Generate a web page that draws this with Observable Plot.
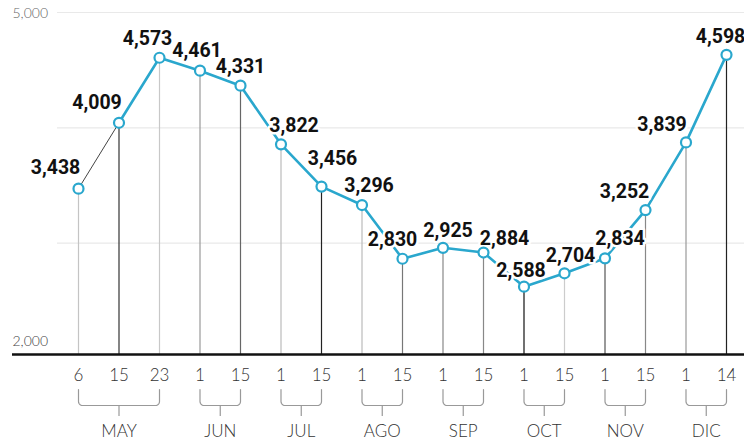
<!DOCTYPE html>
<html><head><meta charset="utf-8">
<script src="https://cdn.jsdelivr.net/npm/d3@7"></script>
<script src="https://cdn.jsdelivr.net/npm/@observablehq/plot@0.6"></script>
<style>body{margin:0;background:#fff}</style>
</head><body><div id="chart"></div>
<script>
// ---- data ----
const days   = ["6","15","23","1","15","1","15","1","15","1","15","1","15","1","15","1","14"];
const months = ["MAY","MAY","MAY","JUN","JUN","JUL","JUL","AGO","AGO","SEP","SEP","OCT","OCT","NOV","NOV","DIC","DIC"];
const values = [3438,4009,4573,4461,4331,3822,3456,3296,2830,2925,2884,2588,2704,2834,3252,3839,4598];
const gridValues = [3000,4000,5000];

// ---- layout / style (separate from data) ----
const labelDx = [-23,-22,-12,-3,0,13,11,7,-10,5,21,-3,6,15,-21,-24,-6];
const labelDy = [-21,-20,-19,-20,-19,-19,-28,-19,-19,-17,-14,-16,-18,-20,-18,-18,-18];
const stemShade = ["#c4c4c4","#333","#c8c8c8","#999","#666","#bbb","#222","#bbb","#777","#888","#888","#111","#ccc","#555","#888","#999","#222"];
const blue = "#2aa7cd";

const W = 744, H = 442, mL = 78, mR = 18, mT = 8, mB = 88;
const xs = Plot.scale({x: {type: "linear", domain: [0, values.length - 1], range: [mL, W - mR]}});
const ys = Plot.scale({y: {type: "linear", domain: [2000, 5000], range: [H - mB, mT]}});
const py = px => ys.invert(px);   // pixel -> data y
const pxx = px => xs.invert(px);  // pixel -> data x
const step = xs.apply(1) - xs.apply(0);

const data = values.map((v, i) => ({i, v, day: days[i], month: months[i]}));
const fmt = d3.format(",");

// month groups -> brackets
const groups = d3.groups(data, d => d.month).map(([m, arr]) => ({
  month: m, i0: d3.min(arr, d => d.i), i1: d3.max(arr, d => d.i)
}));
const topB = 389, botB = 405, tickB = 416, r = 4;
const bracketPts = [];
groups.forEach(g => {
  const rx = r / step;
  bracketPts.push({m: g.month, x: g.i0, y: py(topB)});
  for (let a = 0; a <= 90; a += 15) {
    const t = a * Math.PI / 180;
    bracketPts.push({m: g.month, x: g.i0 + rx * (1 - Math.cos(t)), y: py(botB - r + r * Math.sin(t))});
  }
  for (let a = 90; a >= 0; a -= 15) {
    const t = a * Math.PI / 180;
    bracketPts.push({m: g.month, x: g.i1 - rx * (1 - Math.cos(t)), y: py(botB - r + r * Math.sin(t))});
  }
  bracketPts.push({m: g.month, x: g.i1, y: py(topB)});
});

const chart = Plot.plot({
  width: W, height: H,
  marginLeft: mL, marginRight: mR, marginTop: mT, marginBottom: mB,
  x: {type: "linear", domain: [0, values.length - 1], axis: null},
  y: {type: "linear", domain: [2000, 5000], axis: null},
  color: {type: "identity"},
  style: {background: "#fff", overflow: "visible"},
  marks: [
    // gridlines
    Plot.ruleY(gridValues, {y: d => d, x1: pxx(57), x2: pxx(744), stroke: "#e9e9e9", strokeWidth: 1.2, dy: 4}),
    // stems
    Plot.ruleX(data, {x: "i", y1: 2000, y2: "v", stroke: d => stemShade[d.i], strokeWidth: 1.2}),
    // baseline
    Plot.ruleY([2000], {x1: pxx(12), x2: pxx(744), stroke: "#111", strokeWidth: 2.6}),
    // first thin segment
    Plot.line(data.slice(0, 2), {x: "i", y: "v", stroke: "#444", strokeWidth: 1}),
    // main line
    Plot.line(data.slice(1), {x: "i", y: "v", stroke: blue, strokeWidth: 2.6}),
    // value labels with halo
    Plot.text(data, {
      x: d => d.i + labelDx[d.i] / step,
      y: d => py(ys.apply(d.v) + labelDy[d.i]),
      text: d => fmt(d.v),
      fontFamily: "Roboto", fontWeight: 700, fontSize: 19.5,
      fill: "#111", stroke: "white", strokeWidth: 5
    }),
    // dots
    Plot.dot(data, {x: "i", y: "v", r: 5, fill: "white", stroke: blue, strokeWidth: 2.2}),
    // y labels
    Plot.text([5000], {x: pxx(12), y: d => d, text: d => fmt(d), textAnchor: "start", dy: 5,
      fontFamily: "Lato", fontWeight: 300, fontSize: 14, fill: "#666"}),
    Plot.text([2000], {x: pxx(12), y: d => d, text: d => fmt(d), textAnchor: "start", dy: -13,
      fontFamily: "Lato", fontWeight: 300, fontSize: 14, fill: "#444"}),
    // day labels
    Plot.text(data, {x: "i", y: 2000, text: "day", dy: 21,
      fontFamily: "Lato", fontWeight: 300, fontSize: 17, fill: "#333"}),
    // brackets
    Plot.line(bracketPts, {x: "x", y: "y", z: "m", stroke: "#999", strokeWidth: 1.2}),
    Plot.ruleX(groups, {x: d => (d.i0 + d.i1) / 2, y1: py(botB), y2: py(tickB), stroke: "#999", strokeWidth: 1.2}),
    // month labels
    Plot.text(groups, {x: d => (d.i0 + d.i1) / 2, y: 2000, text: "month", dy: 77,
      fontFamily: "Lato", fontWeight: 300, fontSize: 17, fill: "#333"})
  ]
});
document.getElementById("chart").appendChild(chart);
</script>
</body></html>
